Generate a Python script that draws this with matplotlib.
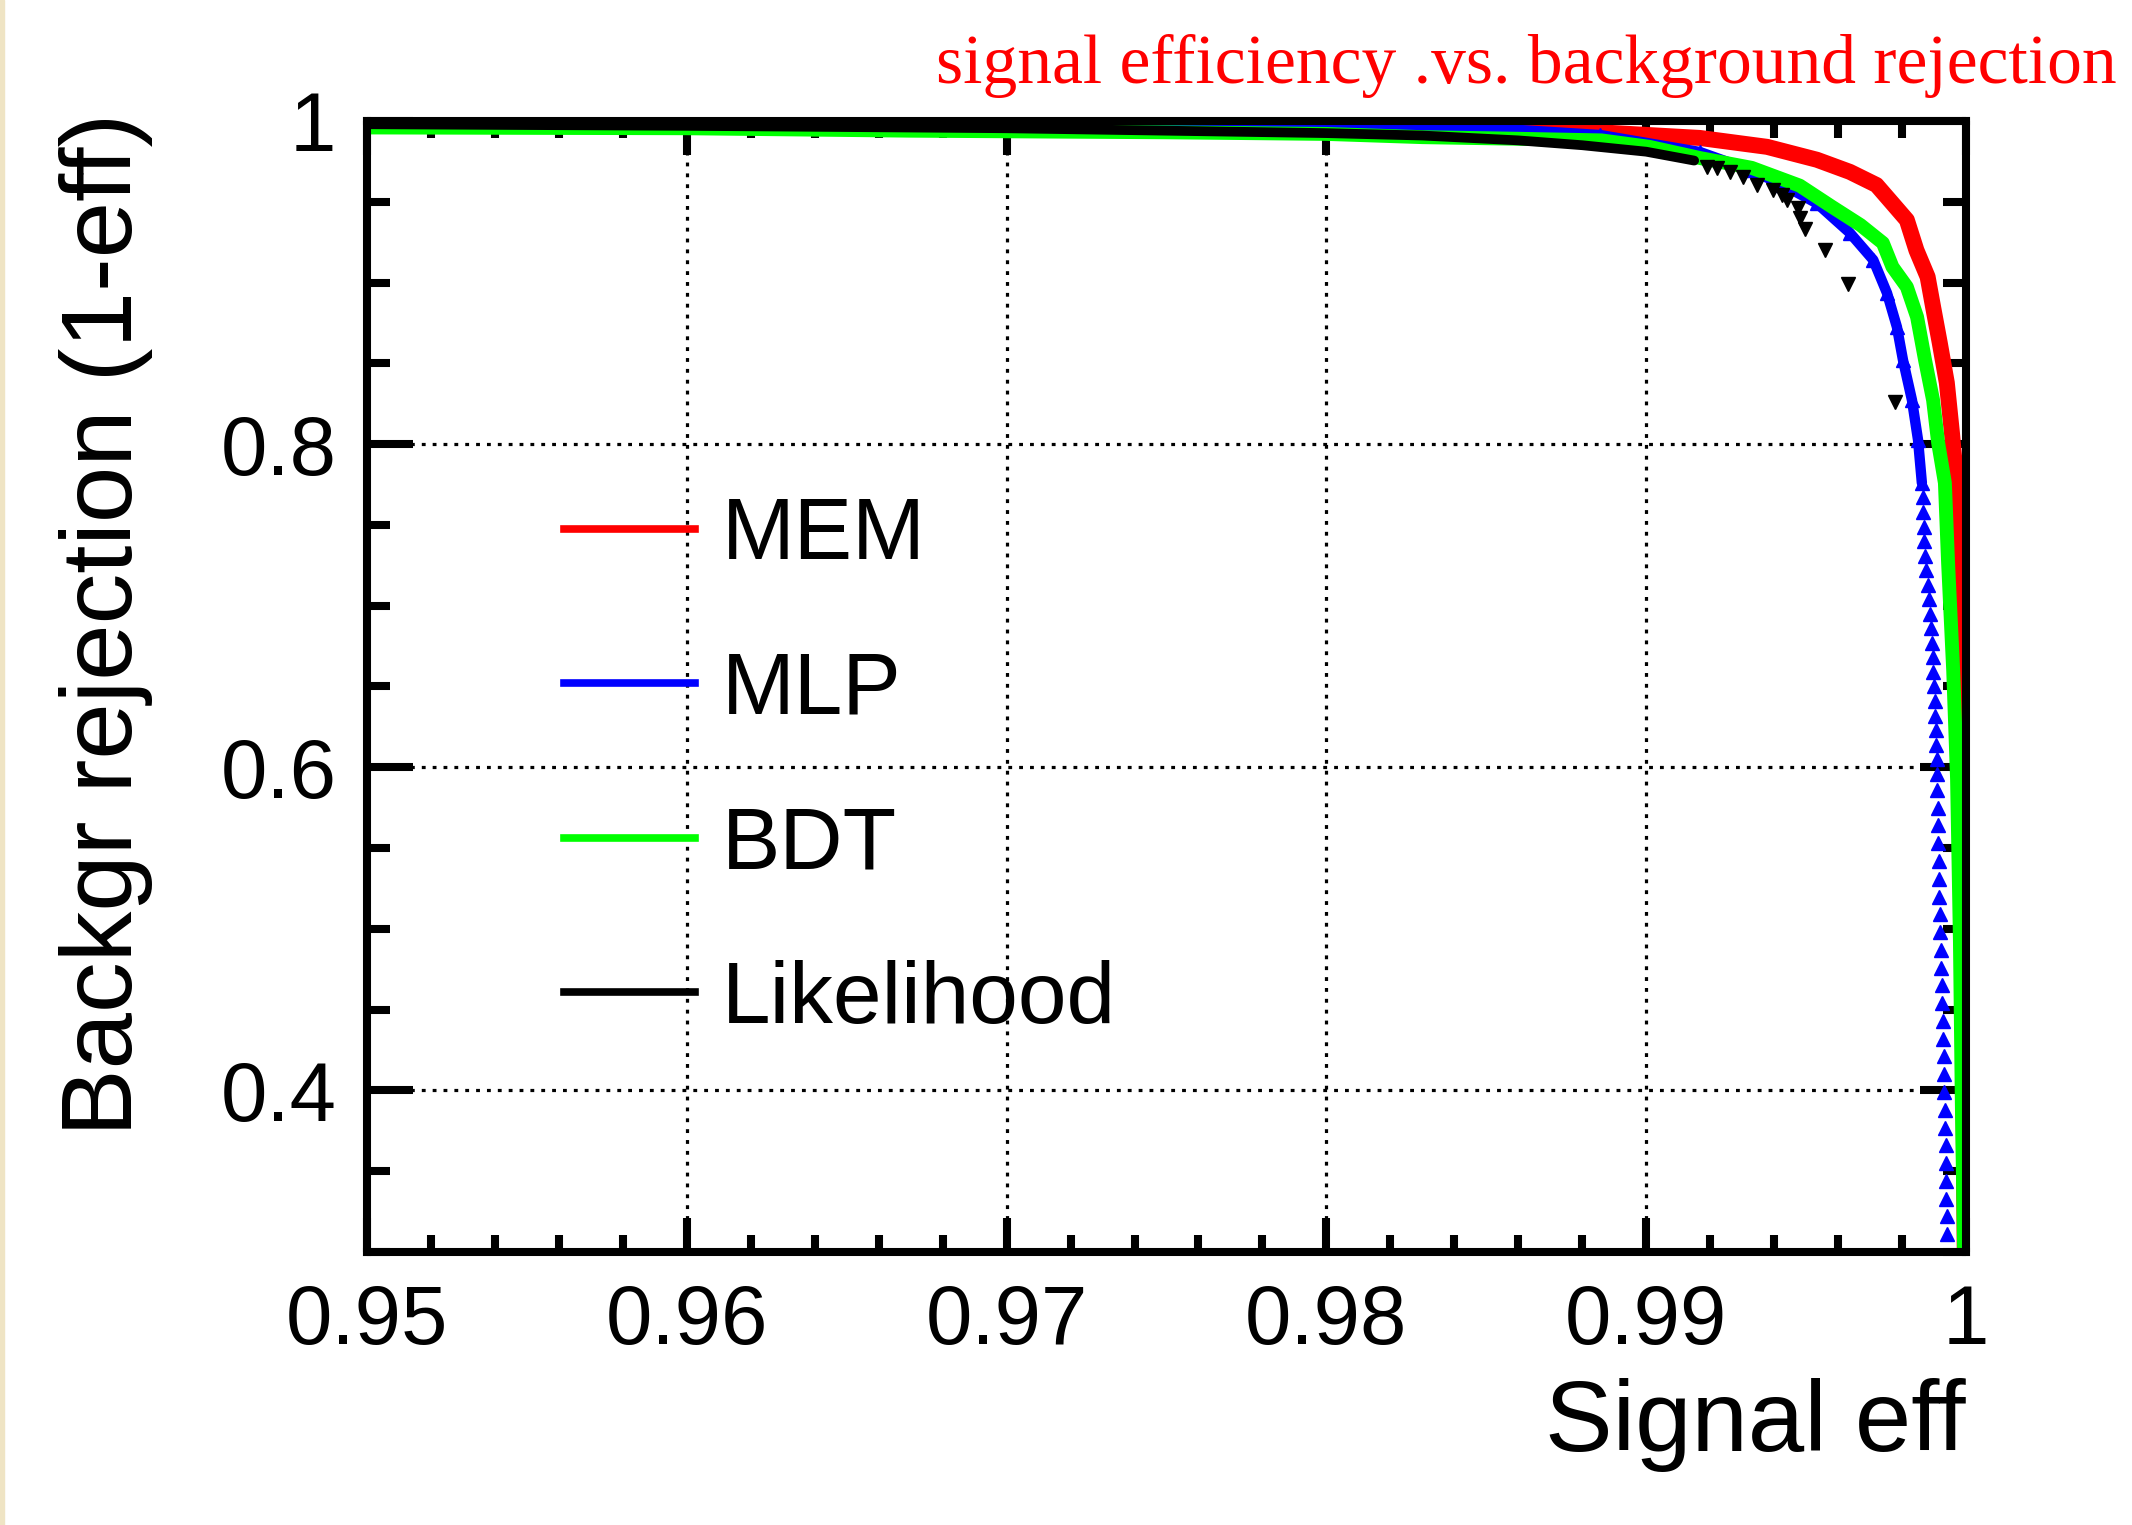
import matplotlib
matplotlib.use("Agg")
import matplotlib.pyplot as plt
from matplotlib.lines import Line2D
from matplotlib.patches import Rectangle

plt.rcParams['font.family'] = ['Liberation Sans', 'DejaVu Sans']

# ROC curves (signal eff, background rejection)
mem_eff = [0.950, 0.960, 0.970, 0.980, 0.985, 0.98856, 0.99168, 0.99378, 0.99534,
           0.99637, 0.9972, 0.9977, 0.99815, 0.99845, 0.9988, 0.99897, 0.99918,
           0.9994, 0.99956, 0.9997, 0.99978, 0.99988, 0.99996]
mem_rej = [0.999, 0.999, 0.999, 0.998, 0.996, 0.993, 0.9895, 0.984, 0.976,
           0.9685, 0.9604, 0.949, 0.9387, 0.920, 0.9035, 0.885, 0.8626,
           0.838, 0.807, 0.776, 0.700, 0.500, 0.300]

mlp_eff = [0.950, 0.960, 0.970, 0.975, 0.980, 0.985, 0.98856, 0.99168, 0.99325,
           0.99428, 0.99534, 0.99637, 0.9971, 0.99753, 0.99784, 0.99803, 0.99831,
           0.9985, 0.99862]
mlp_rej = [0.999, 0.999, 0.9985, 0.998, 0.9975, 0.9957, 0.9913, 0.9808, 0.9697,
           0.9604, 0.949, 0.9307, 0.914, 0.8935, 0.8725, 0.852, 0.8273,
           0.8026, 0.776]
# sparse MLP points in the tail
mlp_tail_eff = [0.99864, 0.99866, 0.99868, 0.9987, 0.99873, 0.99876, 0.9988, 0.99884,
                0.99887, 0.9989, 0.99893, 0.99896, 0.99898, 0.999, 0.99902, 0.99904,
                0.99906, 0.99907, 0.99908, 0.9991, 0.9991, 0.99912, 0.99913, 0.99913,
                0.99915, 0.99916, 0.99917, 0.99918, 0.9992, 0.99921, 0.99922, 0.99924,
                0.99925, 0.99927, 0.99928, 0.9993, 0.99931, 0.99932, 0.99934, 0.99935,
                0.99936, 0.99937, 0.99938, 0.99939, 0.9994, 0.9994]
mlp_tail_rej = [0.767, 0.758, 0.749, 0.740, 0.731, 0.722, 0.713, 0.704, 0.695, 0.686,
                0.677, 0.668, 0.659, 0.650, 0.641, 0.632, 0.623, 0.614, 0.605, 0.596,
                0.586, 0.575, 0.564, 0.553, 0.542, 0.531, 0.520, 0.509, 0.498, 0.487,
                0.476, 0.465, 0.454, 0.443, 0.432, 0.421, 0.410, 0.399, 0.388, 0.377,
                0.366, 0.355, 0.344, 0.333, 0.322, 0.311]

bdt_eff = [0.950, 0.960, 0.967, 0.975, 0.980, 0.983, 0.986, 0.9886, 0.9901, 0.9917,
           0.9933, 0.9948, 0.9958, 0.9967, 0.9974, 0.9977, 0.99815, 0.99847, 0.99872,
           0.99897, 0.99913, 0.99934, 0.99944, 0.9996, 0.99972, 0.99981, 0.99987, 0.99994]
bdt_rej = [0.996, 0.9955, 0.994, 0.993, 0.992, 0.990, 0.989, 0.988, 0.984, 0.977,
           0.971, 0.960, 0.947, 0.9356, 0.9245, 0.9097, 0.8973, 0.8787, 0.852,
           0.8273, 0.8007, 0.776, 0.7264, 0.6596, 0.5927, 0.4919, 0.391, 0.301]

lik_eff = [0.950, 0.960, 0.970, 0.975, 0.980, 0.983, 0.986, 0.988, 0.990, 0.9915]
lik_rej = [0.998, 0.997, 0.9955, 0.994, 0.9925, 0.991, 0.988, 0.985, 0.981, 0.9755]
lik_tail_eff = [0.99189, 0.9922, 0.99262, 0.99304, 0.99345, 0.99397, 0.99424, 0.99439,
                0.99476, 0.99481, 0.99497, 0.99559, 0.99632, 0.99778]
lik_tail_rej = [0.9717, 0.9707, 0.9686, 0.9655, 0.9604, 0.9573, 0.9542, 0.9511,
                0.9460, 0.9398, 0.9330, 0.9202, 0.8989, 0.8263]

names = ["MEM", "MLP", "BDT", "Likelihood"]
colors = ["#ff0000", "#0000ff", "#00ff00", "#000000"]

x_major = [0.95, 0.96, 0.97, 0.98, 0.99, 1.0]
x_labels = ["0.95", "0.96", "0.97", "0.98", "0.99", "1"]
y_major = [0.4, 0.6, 0.8, 1.0]
y_labels = ["0.4", "0.6", "0.8", "1"]

fig = plt.figure(figsize=(21.32, 15.25), dpi=100)
fig.patches.append(Rectangle((0, 0), 4 / 2132, 1, transform=fig.transFigure,
                             color="#efe4c4", zorder=0))
ax = fig.add_axes([0.17214, 0.17902, 0.75, 0.74164])

ax.plot(mem_eff, mem_rej, color=colors[0], lw=11.5, solid_capstyle="round",
        solid_joinstyle="round")
ax.plot(mlp_eff, mlp_rej, color=colors[1], lw=7.5, solid_capstyle="round",
        solid_joinstyle="round", marker="^", ms=10)
ax.plot(mlp_tail_eff, mlp_tail_rej, ls="none", marker="^", ms=10, color=colors[1])
ax.plot(bdt_eff, bdt_rej, color=colors[2], lw=10, solid_capstyle="round",
        solid_joinstyle="round")
ax.plot(lik_eff, lik_rej, color=colors[3], lw=7, solid_capstyle="round",
        solid_joinstyle="round")
ax.plot(lik_tail_eff, lik_tail_rej, ls="none", marker="v", ms=10, color=colors[3])

ax.set_xlim(0.95, 1.0)
ax.set_ylim(0.3, 1.0)
ax.set_xticks(x_major)
ax.set_xticklabels(x_labels)
ax.set_xticks([0.95 + 0.002 * i for i in range(26)], minor=True)
ax.set_yticks(y_major)
ax.set_yticklabels(y_labels)
ax.set_yticks([0.3 + 0.05 * i for i in range(15)], minor=True)

for s in ax.spines.values():
    s.set_linewidth(5.8)
ax.tick_params(which="both", direction="in", top=True, right=True,
               width=5.8, labelsize=60, pad=22)
ax.tick_params(axis="x", which="major", length=24.5)
ax.tick_params(axis="x", which="minor", length=12)
ax.tick_params(axis="y", which="major", length=33)
ax.tick_params(axis="y", which="minor", length=16.5)

ax.grid(which="major", color="k", linestyle=(0, (1.2, 2.2)), linewidth=2.3)
ax.set_axisbelow(True)

ax.set_xlabel("Signal eff", fontsize=73, ha="right", va="baseline")
ax.xaxis.set_label_coords(1.0, -0.176)
ax.set_ylabel("Backgr rejection (1-eff)", fontsize=73, rotation=90,
              rotation_mode="anchor", ha="right", va="baseline")
ax.yaxis.set_label_coords(-0.147, 1.0071)

handles = [Line2D([], [], color=c, lw=5.5) for c in colors]
ax.legend(handles, names, loc="upper left", bbox_to_anchor=(0.2645, 0.6745),
          bbox_transform=fig.transFigure, frameon=False, fontsize=63,
          handlelength=1.5, handletextpad=0.3, labelspacing=0.84,
          borderpad=0, borderaxespad=0)

fig.text(0.993, 0.9456, "signal efficiency .vs. background rejection",
         color="#ff0000", fontsize=50, family="Liberation Serif",
         ha="right", va="baseline")

fig.savefig("out.png", dpi=100)
